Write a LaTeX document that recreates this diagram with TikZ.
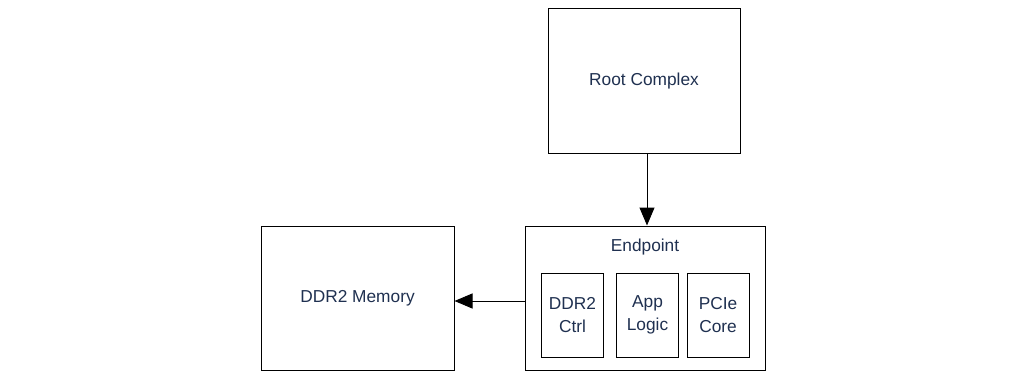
\documentclass[tikz,border=0pt]{standalone}
\usepackage{fontspec}
\setmainfont{Liberation Sans}
\usetikzlibrary{arrows.meta}
\definecolor{labelblue}{HTML}{1F3050}
\tikzset{
	block/.style={draw=black, line width=1pt, inner sep=0pt, align=center, text=labelblue, font=\fontsize{17.3}{23}\selectfont},
	smallblock/.style={block, minimum width=62pt, minimum height=84pt},
	link/.style={draw=black, line width=1pt, -{Triangle[length=18pt,width=15pt]}}
}

\begin{document}
\begin{tikzpicture}[x=1pt,y=-1pt]
			\useasboundingbox (0,0) rectangle (1014,385);
			\node[block, minimum width=192pt, minimum height=144pt] (root) at (644,81) {Root Complex};
			\node[block, minimum width=240pt, minimum height=144pt] (ep) at (645,298) {};
			\node[text=labelblue, font=\fontsize{17.3}{23}\selectfont] (eptitle) at (645,247) {Endpoint};
			\node[block, minimum width=193pt, minimum height=144pt] (mem) at (357.5,298) {DDR2 Memory};
			\node[smallblock] (ctrl) at (572.5,315) {DDR2\\Ctrl};
			\node[smallblock] (app) at (647.5,315) {App\\Logic};
			\node[smallblock] (pcie) at (718,315) {PCIe\\Core};
			\coordinate (down) at (647,153);
			\draw[link] (down) -- (down |- ep.north);
			\draw[link] (ep.west |- 0,301) -- (mem.east |- 0,301);
		\end{tikzpicture}
\end{document}
